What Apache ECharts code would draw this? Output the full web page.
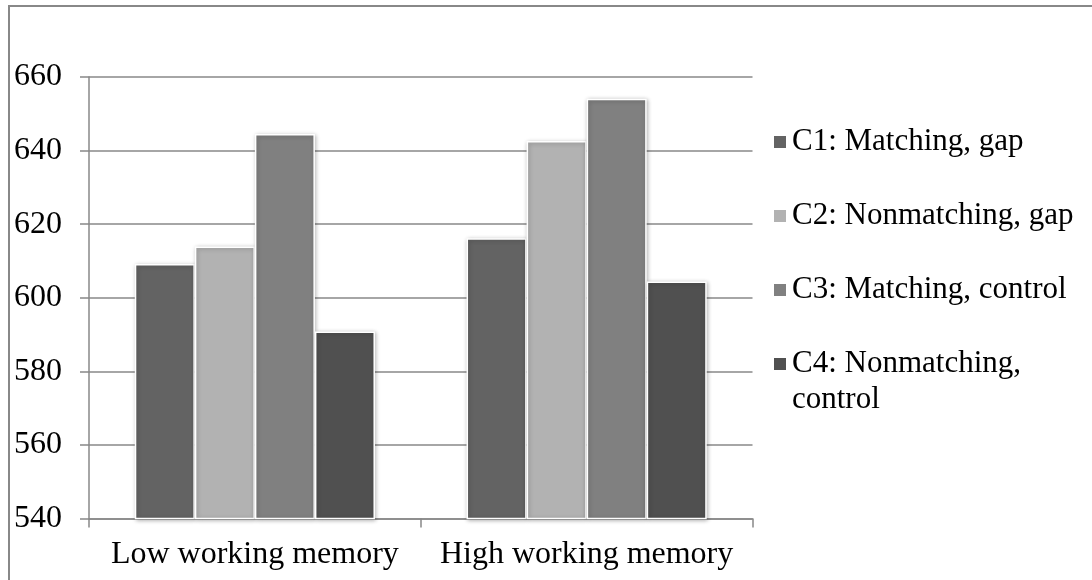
<!DOCTYPE html>
<html>
<head>
<meta charset="utf-8">
<script src="https://cdn.jsdelivr.net/npm/echarts@6/dist/echarts.min.js"></script>
<style>
  html, body { margin: 0; padding: 0; background: #fff; }
  #chart { width: 1092px; height: 580px; }
</style>
</head>
<body>
<div id="chart"></div>
<script>
// Mean values per working-memory group for the four conditions
const categories = ['Low working memory', 'High working memory'];
const seriesNames = [
  'C1: Matching, gap',
  'C2: Nonmatching, gap',
  'C3: Matching, control',
  'C4: Nonmatching, control'
];
const c1Values = [609.2, 616.2];
const c2Values = [613.9, 642.6];
const c3Values = [644.5, 654.1];
const c4Values = [590.8, 604.4];
const yTicks = { min: 540, max: 660, step: 20 };

const seriesValues = [c1Values, c2Values, c3Values, c4Values];
const colors = ['#636363', '#b2b2b2', '#808080', '#505050'];
const FONT = '"Liberation Serif", "Times New Roman", serif';
const LINE = '#888888';
const LH = 36;

const legendText = { fontFamily: FONT, fontSize: 31, color: '#000', lineHeight: LH };
const legendBase = {
  orient: 'vertical',
  left: 772,
  padding: 0,
  itemWidth: 14,
  itemHeight: 14,
  icon: 'rect',
  selectedMode: false
};

const chart = echarts.init(document.getElementById('chart'), null, { renderer: 'canvas' });

chart.setOption({
  animation: false,
  backgroundColor: '#ffffff',
  textStyle: { fontFamily: FONT, color: '#000' },
  graphic: [{
    type: 'rect',
    shape: { x: 9, y: 6, width: 2000, height: 2000 },
    style: { fill: 'none', stroke: LINE, lineWidth: 2 },
    silent: true,
    z: -10
  }],
  grid: { left: 89, right: 339.5, top: 77, bottom: 61.5, containLabel: false },
  legend: [
    Object.assign({}, legendBase, {
      top: 124,
      itemGap: 74 - LH,
      textStyle: legendText,
      data: seriesNames.slice(0, 3)
    }),
    // the wrapped entry keeps its swatch beside the first line:
    // a blank leading line balances the block around the swatch
    Object.assign({}, legendBase, {
      top: 364 - 54,
      textStyle: Object.assign({}, legendText, {
        rich: {
          e: { fontFamily: FONT, fontSize: 31, lineHeight: LH, color: '#000' },
          t: { fontFamily: FONT, fontSize: 31, lineHeight: LH, color: '#000' }
        }
      }),
      data: seriesNames.slice(3),
      formatter: () => '{e| }\n{t|C4: Nonmatching,}\n{t|control}'
    })
  ],
  xAxis: {
    type: 'category',
    data: categories,
    boundaryGap: true,
    axisLine: { show: true, lineStyle: { color: LINE, width: 1.5 } },
    axisTick: { show: true, length: 9, alignWithLabel: false, lineStyle: { color: LINE, width: 1.5 } },
    axisLabel: { fontFamily: FONT, fontSize: 32, color: '#000', margin: 20, interval: 0, hideOverlap: false },
    splitLine: { show: false }
  },
  yAxis: {
    type: 'value',
    min: yTicks.min,
    max: yTicks.max,
    interval: yTicks.step,
    axisLine: { show: true, lineStyle: { color: LINE, width: 1.5 } },
    axisTick: { show: true, length: 9, lineStyle: { color: LINE, width: 1.5 } },
    axisLabel: { fontFamily: FONT, fontSize: 32, color: '#000', margin: 27 },
    splitLine: { show: true, lineStyle: { color: LINE, width: 1.5 } }
  },
  series: seriesNames.map((name, i) => ({
    name,
    type: 'bar',
    data: seriesValues[i],
    barGap: '0%',
    barCategoryGap: '27.6%',
    itemStyle: {
      color: colors[i],
      borderColor: '#ffffff',
      borderWidth: 1.5,
      shadowColor: 'rgba(0,0,0,0.28)',
      shadowBlur: 4,
      shadowOffsetX: 1,
      shadowOffsetY: 1
    }
  }))
});
</script>
</body>
</html>
